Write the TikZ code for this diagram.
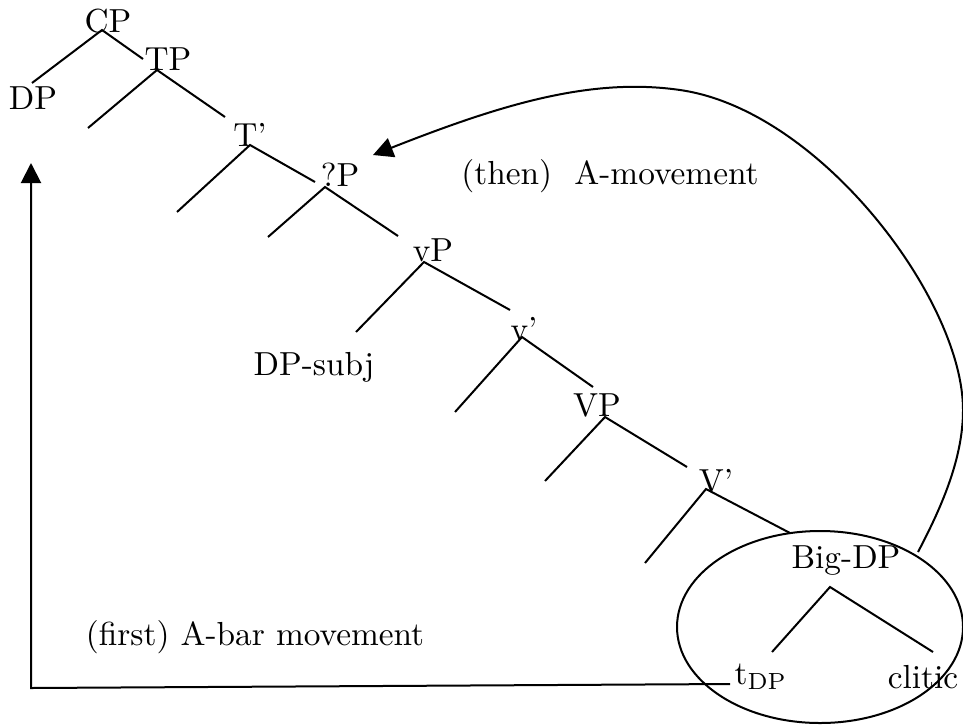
\documentclass[tikz,border=0pt]{standalone}
\usetikzlibrary{arrows.meta}
\begin{document}
\begin{tikzpicture}[x=0.3pt,y=-0.3pt,
  lbl/.style={inner sep=0pt,anchor=center},
  br/.style={line width=0.6pt},
  mv/.style={line width=0.6pt,-{Triangle[length=6pt,width=6pt]}}]
\useasboundingbox (0,0) rectangle (963,724);
% labels
\node[lbl] (CP) at (108,21) {CP};
\node[lbl] (DP) at (33,98) {DP};
\node[lbl] (TP) at (168,59) {TP};
\node[lbl] (Tb) at (250,135) {T'};
\node[lbl] (QP) at (340,175) {?P};
\node[lbl] (vP) at (433,250) {vP};
\node[lbl] (DPs) at (314,367) {DP-subj};
\node[lbl] (vb) at (524,329) {v'};
\node[lbl] (VP) at (597,405) {VP};
\node[lbl] (Vb) at (716,481) {V'};
\node[lbl] (BDP) at (846,561) {Big-DP};
\node[lbl] (tDP) at (761,677) {t\textsubscript{DP}};
\node[lbl] (cl) at (923,677) {clitic};
\node[lbl] (then) at (610,176) {(then)\ \ A-movement};
\node[lbl] (first) at (255,637) {(first) A-bar movement};
% vertices
\coordinate (vCP) at (102,30);
\coordinate (vTP) at (157,70);
\coordinate (vTb) at (250,145);
\coordinate (vQP) at (325,187);
\coordinate (vvP) at (424,262);
\coordinate (vvb) at (522,337);
\coordinate (vVP) at (605,417);
\coordinate (vVb) at (706,489);
\coordinate (vBDP) at (830,587);
% branch ends
\coordinate (eCPl) at (32,83);
\coordinate (eCPr) at (143,59);
\coordinate (eTPl) at (88,128);
\coordinate (eTPr) at (225,117);
\coordinate (eTbl) at (177,212);
\coordinate (eTbr) at (315,182);
\coordinate (eQPl) at (268,237);
\coordinate (eQPr) at (398,236);
\coordinate (evPl) at (356,332);
\coordinate (evPr) at (510,310);
\coordinate (evbl) at (455,412);
\coordinate (evbr) at (593,387);
\coordinate (eVPl) at (545,481);
\coordinate (eVPr) at (687,467);
\coordinate (eVbl) at (645,563);
\coordinate (eVbr) at (790,533);
\coordinate (eBl) at (772,652);
\coordinate (eBr) at (933,652);
% branches
\draw[br] (eCPl) -- (vCP) -- (eCPr);
\draw[br] (eTPl) -- (vTP) -- (eTPr);
\draw[br] (eTbl) -- (vTb) -- (eTbr);
\draw[br] (eQPl) -- (vQP) -- (eQPr);
\draw[br] (evPl) -- (vvP) -- (evPr);
\draw[br] (evbl) -- (vvb) -- (evbr);
\draw[br] (eVPl) -- (vVP) -- (eVPr);
\draw[br] (eVbl) -- (vVb) -- (eVbr);
\draw[br] (eBl) -- (vBDP) -- (eBr);
% ellipse
\draw[br] (820,627) ellipse [x radius=42.9pt, y radius=28.8pt];
% A-bar movement
\coordinate (hL) at (31,688);
\coordinate (aTip) at (31,163);
\coordinate (hR) at (730,684);
\draw[mv] (hR) -- (hL) -- (aTip);
% A-movement curve
\coordinate (cS) at (918,552);
\coordinate (cM1) at (963,410);
\coordinate (cM2) at (680,90);
\coordinate (cE) at (373,155);
\draw[mv] (cS) .. controls (940,510) and (963,460) .. (cM1)
  .. controls (963,300) and (820,110) .. (cM2)
  .. controls (590,77) and (500,105) .. (cE);
\end{tikzpicture}
\end{document}
